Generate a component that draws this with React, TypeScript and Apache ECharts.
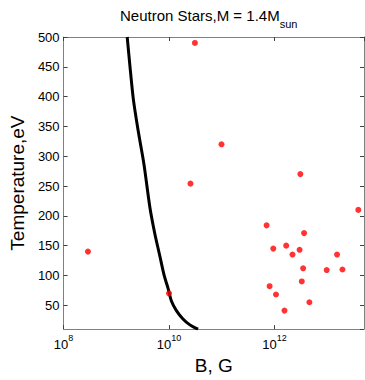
import React, { useEffect, useRef } from "react";
import * as echarts from "echarts";

// Observed neutron stars: magnetic field B (G) and temperature (eV)
const starB = [2.9e8, 1.0e10, 2.55e10, 3.1e10, 9.9e10, 7.1e11, 8.1e11, 9.5e11, 1.07e12, 1.55e12, 1.67e12, 2.2e12, 3.0e12, 3.1e12, 3.3e12, 3.5e12, 3.65e12, 4.6e12, 9.8e12, 1.54e13, 1.95e13, 3.9e13];
const starT = [140, 70, 254, 490, 320, 184, 82, 145, 68, 41, 150, 135, 143, 270, 90, 112, 171, 55, 109, 135, 110, 210];

// Boundary curve for M = 1.4 Msun
const curveB = [1.61e9, 1.82e9, 2.11e9, 2.62e9, 3.34e9, 4.34e9, 5.38e9, 6.68e9, 8.09e9, 9.62e9, 1.11e10, 1.38e10, 1.84e10, 2.45e10, 3.14e10, 3.57e10];
const curveT = [500, 450, 395, 341, 287, 214, 170, 133, 100, 78, 57, 41, 27, 17.5, 12, 10];

const xMin = 1e8;
const xMax = 5e13;
const yMin = 10;
const yMax = 500;

const FONT = "'Liberation Sans', Arial, Helvetica, sans-serif";

export default function App() {
  const ref = useRef<HTMLDivElement>(null);
  useEffect(() => {
    const chart = echarts.init(ref.current!, null, { renderer: "svg" });
    const axisColor = "#808080";
    const tick = { show: true, inside: true, length: 4, lineStyle: { color: "#404040", width: 1 } };
    const axisLine = { show: true, onZero: false, lineStyle: { color: axisColor, width: 1 } };
    const xCommon = {
      type: "log" as const,
      logBase: 100,
      min: xMin,
      max: xMax,
      splitLine: { show: false },
      minorTick: { show: false },
      axisLine,
      axisTick: tick,
    };
    const yCommon = {
      type: "value" as const,
      min: yMin,
      max: yMax,
      splitNumber: 10,
      splitLine: { show: false },
      axisLine,
      axisTick: tick,
    };
    chart.setOption({
      animation: false,
      backgroundColor: "#ffffff",
      title: {
        text: "{a|Neutron Stars,M = 1.4M}{b|sun}",
        left: 120,
        top: 1.5,
        padding: 0,
        textStyle: {
          fontWeight: "normal",
          rich: {
            a: { fontSize: 15, lineHeight: 28, fontFamily: FONT, fontWeight: "normal", color: "#000" },
            b: { fontSize: 11, verticalAlign: "bottom", fontFamily: FONT, fontWeight: "normal", color: "#000" },
          },
        },
      },
      grid: { left: 61, right: 1, top: 37, bottom: 42, containLabel: false },
      xAxis: [
        {
          ...xCommon,
          position: "bottom",
          name: "B, G",
          nameLocation: "middle",
          nameGap: 22,
          nameTextStyle: { fontSize: 19, fontFamily: FONT, color: "#000" },
          axisLabel: {
            show: true,
            margin: 4,
            showMaxLabel: false,
            formatter: (v: number) => `{b|10}{s|${Math.round(Math.log10(v))}}`,
            rich: {
              b: { fontSize: 13, lineHeight: 23, fontFamily: FONT, color: "#000" },
              s: { fontSize: 9, verticalAlign: "top", fontFamily: FONT, color: "#000" },
            },
          },
        },
        { ...xCommon, position: "top", axisLabel: { show: false } },
      ],
      yAxis: [
        {
          ...yCommon,
          position: "left",
          name: "Temperature,eV",
          nameLocation: "middle",
          nameGap: 31,
          nameTextStyle: { fontSize: 19, fontFamily: FONT, color: "#000" },
          axisLabel: { show: true, margin: 4, showMinLabel: false, fontSize: 13, fontFamily: FONT, color: "#000" },
        },
        { ...yCommon, position: "right", axisLabel: { show: false } },
      ],
      series: [
        {
          type: "line",
          xAxisIndex: 0,
          yAxisIndex: 0,
          data: curveB.map((b, i) => [b, curveT[i]]),
          showSymbol: false,
          symbol: "none",
          smooth: 0.3,
          lineStyle: { color: "#000000", width: 3 },
          z: 2,
        },
        {
          type: "scatter",
          xAxisIndex: 0,
          yAxisIndex: 0,
          data: starB.map((b, i) => [b, starT[i]]),
          symbol: "circle",
          symbolSize: 6,
          itemStyle: { color: "#ff0000" },
          z: 3,
        },
      ],
    });
    return () => chart.dispose();
  }, []);
  return <div ref={ref} style={{ position: "fixed", left: 0, top: 0, width: 365, height: 380 }} />;
}
